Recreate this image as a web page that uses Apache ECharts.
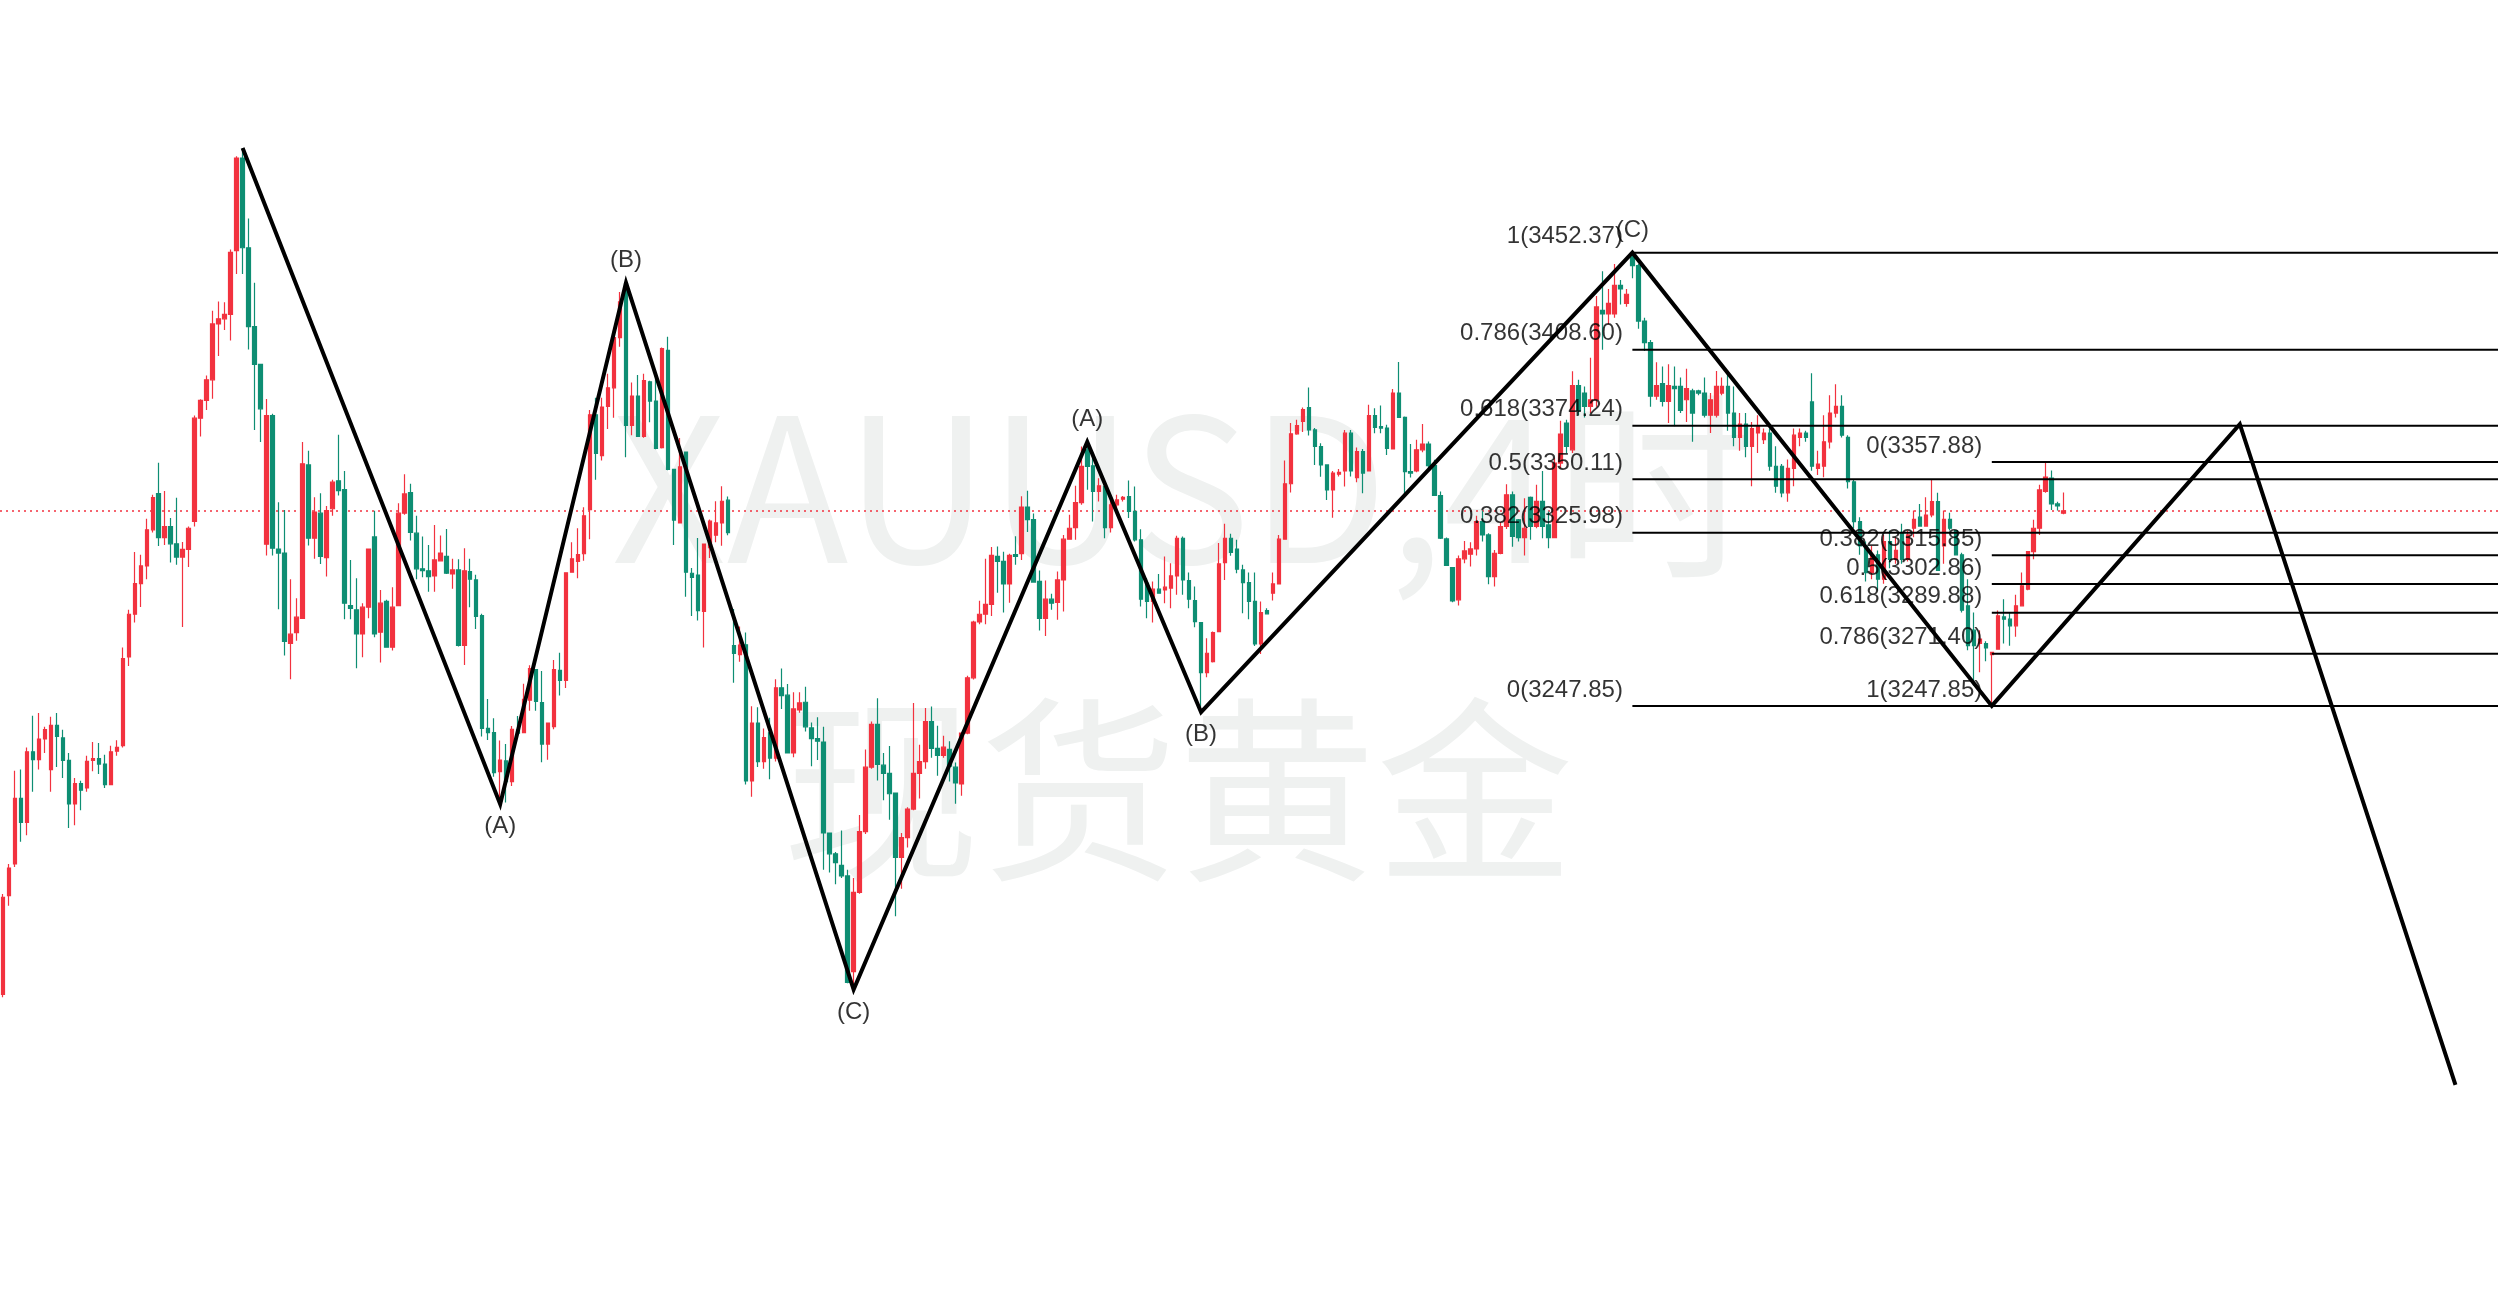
<!DOCTYPE html>
<html><head><meta charset="utf-8">
<script src="https://cdn.jsdelivr.net/npm/echarts@6/dist/echarts.min.js"></script>
<style>html,body{margin:0;padding:0;background:#fff;overflow:hidden}#c{width:2498px;height:1308px}</style>
</head><body><div id="c"></div>
<script>
// candles: [open, close, low, high]
const candles = [
[3117.6,3161.5,3116.4,3163.0],[3162.2,3174.7,3157.7,3176.5],[3176.5,3206.1,3175.2,3218.6],[3206.1,3195.3,3186.5,3219.1],
[3195.3,3227.1,3189.5,3229.1],[3227.1,3223.6,3209.1,3243.4],[3223.6,3232.9,3219.1,3244.6],[3232.9,3237.1,3226.6,3238.4],
[3219.1,3239.1,3209.1,3242.9],[3239.1,3234.1,3220.3,3244.6],[3233.4,3223.3,3215.3,3237.1],[3223.3,3203.6,3192.8,3226.6],
[3203.6,3212.8,3194.0,3215.3],[3212.8,3209.8,3200.8,3214.1],[3210.8,3222.8,3209.1,3225.3],[3223.3,3224.1,3218.3,3231.6],
[3224.1,3221.6,3217.1,3231.1],[3221.6,3212.3,3210.8,3225.8],[3212.3,3227.1,3212.3,3229.9],[3227.4,3229.1,3225.3,3232.4],
[3229.9,3269.2,3229.1,3274.2],[3269.9,3289.2,3265.9,3291.2],[3289.2,3303.0,3285.5,3317.3],[3303.0,3311.0,3292.5,3316.0],
[3311.0,3327.3,3305.0,3332.3],[3327.3,3341.8,3326.1,3343.1],[3343.6,3323.8,3320.0,3357.6],[3323.8,3328.8,3320.5,3344.8],
[3328.8,3321.0,3312.5,3332.6],[3321.0,3315.0,3311.5,3341.8],[3315.0,3318.5,3283.5,3321.8],[3318.5,3328.0,3310.5,3328.8],
[3331.1,3377.7,3328.8,3378.9],[3377.7,3385.7,3369.4,3386.2],[3385.7,3395.0,3381.4,3396.9],[3395.0,3420.2,3386.4,3426.2],
[3420.2,3422.5,3405.7,3430.3],[3422.5,3424.5,3417.5,3430.0],[3424.5,3452.5,3412.7,3453.8],[3453.3,3495.1,3442.8,3495.9],
[3495.1,3454.6,3442.8,3499.6],[3454.6,3419.0,3408.7,3467.8],[3419.0,3402.0,3372.4,3438.8],[3402.0,3381.9,3366.9,3402.0],
[3320.8,3378.8,3315.7,3386.3],[3378.8,3319.0,3315.7,3379.7],[3318.6,3316.8,3291.5,3339.8],[3316.8,3276.9,3270.6,3336.3],
[3276.1,3280.2,3259.9,3305.0],[3280.9,3287.9,3277.3,3296.4],[3287.3,3357.1,3287.3,3366.9],[3356.6,3323.5,3320.2,3363.0],
[3323.5,3335.3,3314.2,3342.0],[3334.8,3315.3,3311.9,3343.8],[3314.8,3336.0,3306.2,3338.1],[3336.8,3348.8,3333.6,3349.9],
[3349.4,3345.0,3342.8,3370.2],[3345.4,3294.2,3287.0,3353.9],[3293.1,3291.8,3287.0,3313.7],[3291.2,3280.3,3264.8,3305.5],
[3280.3,3292.4,3269.8,3294.2],[3292.4,3318.6,3287.4,3318.6],[3324.1,3280.3,3278.8,3335.9],[3281.1,3294.2,3267.4,3300.2],
[3295.0,3274.3,3274.3,3295.7],[3274.3,3292.4,3272.8,3301.4],[3293.1,3334.8,3293.1,3339.3],[3334.8,3343.5,3334.1,3352.4],
[3344.1,3326.1,3322.5,3348.1],[3325.8,3309.7,3305.0,3333.6],[3309.7,3308.9,3305.9,3324.3],[3308.8,3306.2,3299.4,3320.5],
[3306.5,3313.7,3299.4,3329.5],[3313.3,3316.8,3313.0,3324.7],[3315.3,3307.7,3307.4,3327.7],[3307.4,3309.2,3300.7,3314.2],
[3309.2,3275.1,3274.6,3314.0],[3275.1,3308.8,3266.3,3319.0],[3308.5,3305.0,3292.4,3314.2],[3304.7,3288.2,3282.6,3307.0],
[3288.6,3237.7,3234.0,3289.4],[3237.7,3235.8,3232.5,3251.0],[3235.8,3217.7,3215.9,3242.3],[3218.2,3223.4,3203.5,3232.2],
[3223.0,3213.7,3204.3,3230.7],[3213.7,3237.3,3211.7,3238.8],[3237.0,3235.5,3235.5,3243.3],[3235.8,3250.8,3235.8,3257.8],
[3250.4,3264.7,3245.7,3266.2],[3264.2,3249.9,3245.7,3264.2],[3249.3,3230.6,3222.4,3263.6],[3230.6,3240.1,3223.5,3240.4],
[3238.5,3264.2,3237.3,3268.6],[3263.9,3259.4,3252.5,3271.8],[3259.4,3307.9,3255.9,3307.9],[3308.2,3314.2,3308.2,3321.7],
[3313.0,3316.1,3305.4,3328.0],[3316.5,3333.6,3313.3,3337.5],[3336.4,3379.2,3323.0,3381.4],[3379.2,3361.8,3349.9,3386.9],
[3360.8,3382.7,3358.6,3386.9],[3383.0,3391.4,3372.8,3397.7],[3391.4,3414.0,3377.9,3417.5],[3414.0,3430.2,3409.9,3434.6],
[3438.4,3374.4,3360.0,3438.9],[3374.4,3387.7,3370.0,3393.8],[3387.7,3369.5,3369.5,3397.2],[3369.5,3394.6,3368.9,3397.7],
[3394.1,3385.4,3375.9,3394.6],[3385.4,3364.0,3363.7,3396.9],[3364.4,3409.1,3364.0,3409.6],[3408.3,3354.6,3354.2,3414.4],
[3354.6,3331.7,3320.4,3354.6],[3330.4,3355.7,3330.1,3368.7],[3362.4,3308.2,3297.1,3362.4],[3307.7,3305.8,3288.4,3310.1],
[3306.9,3290.8,3286.4,3323.6],[3290.5,3320.9,3274.2,3320.9],[3319.3,3331.2,3314.6,3332.0],[3324.9,3330.4,3321.7,3340.2],
[3330.4,3340.2,3320.1,3347.0],[3340.7,3326.0,3324.9,3342.3],[3275.0,3271.5,3258.3,3291.6],[3271.0,3275.3,3267.8,3283.7],
[3275.4,3214.0,3212.4,3281.0],[3214.0,3240.1,3206.9,3247.7],[3240.1,3222.7,3220.3,3247.2],[3222.7,3233.5,3219.5,3237.7],
[3235.7,3224.3,3214.8,3242.5],[3224.3,3256.0,3222.7,3259.9],[3256.0,3252.5,3246.5,3264.7],[3252.7,3226.6,3226.6,3257.7],
[3226.6,3246.5,3224.7,3254.0],[3246.0,3249.2,3244.8,3254.0],[3249.5,3238.4,3236.3,3256.5],[3237.9,3233.1,3220.6,3240.3],
[3233.1,3231.9,3223.4,3242.7],[3231.5,3190.5,3173.9,3238.4],[3190.5,3181.1,3172.7,3190.5],[3181.1,3177.1,3167.4,3181.9],
[3175.9,3171.1,3170.2,3191.6],[3171.1,3123.1,3122.7,3173.9],[3127.9,3163.7,3119.8,3170.2],[3163.7,3191.1,3163.1,3198.6],
[3191.1,3220.2,3190.0,3228.2],[3220.2,3239.5,3219.5,3240.8],[3239.5,3221.5,3214.2,3251.3],[3221.1,3217.4,3205.3,3226.6],
[3217.4,3208.2,3196.5,3229.8],[3208.5,3179.5,3152.9,3208.5],[3179.5,3188.4,3165.3,3190.5],[3188.4,3201.3,3184.0,3202.1],
[3201.3,3217.4,3200.8,3249.2],[3217.4,3222.7,3206.1,3230.3],[3222.7,3240.8,3219.5,3246.9],[3240.8,3228.7,3224.4,3247.6],
[3228.7,3225.5,3216.3,3238.9],[3225.5,3229.2,3224.4,3234.4],[3228.2,3220.6,3213.7,3231.9],[3220.2,3213.1,3203.7,3222.3],
[3212.6,3235.6,3207.3,3235.6],[3235.6,3260.5,3235.0,3261.5],[3260.5,3285.7,3259.8,3286.3],[3285.7,3289.2,3284.7,3295.3],
[3289.2,3293.7,3284.7,3314.2],[3293.7,3315.8,3288.4,3319.5],[3315.3,3313.1,3298.9,3319.8],[3313.1,3302.9,3290.0,3317.4],
[3302.9,3315.8,3294.4,3316.5],[3316.1,3315.3,3311.5,3324.4],[3316.6,3337.6,3313.7,3342.4],[3337.6,3331.9,3326.3,3344.9],
[3331.9,3303.7,3303.7,3334.7],[3304.0,3287.3,3281.9,3308.9],[3287.3,3296.0,3279.4,3304.4],[3296.0,3294.2,3291.2,3298.4],
[3294.5,3304.7,3286.7,3308.5],[3304.7,3323.1,3290.4,3325.0],[3323.1,3328.0,3322.8,3334.1],[3328.3,3339.6,3322.8,3347.2],
[3339.6,3355.9,3338.6,3364.9],[3363.4,3355.9,3345.4,3367.0],[3356.2,3344.6,3331.1,3361.2],[3344.6,3347.2,3340.1,3350.6],
[3346.9,3328.3,3323.5,3348.7],[3328.3,3338.6,3326.1,3342.6],[3338.6,3340.8,3336.6,3343.1],[3341.1,3341.9,3340.1,3342.6],
[3342.3,3335.6,3332.6,3349.6],[3335.6,3322.8,3322.0,3346.9],[3322.8,3296.0,3292.7,3327.6],[3303.2,3295.0,3287.4,3305.5],
[3295.0,3300.5,3285.5,3304.0],[3300.5,3298.7,3298.5,3307.4],[3300.2,3301.4,3294.2,3315.3],[3301.0,3306.5,3291.9,3312.2],
[3306.5,3323.5,3298.0,3324.6],[3323.5,3304.7,3298.0,3324.3],[3304.4,3296.0,3291.9,3308.0],[3295.4,3285.9,3283.3,3301.7],
[3285.4,3262.9,3245.0,3285.4],[3262.9,3271.6,3260.8,3278.4],[3267.8,3280.9,3267.4,3281.4],[3281.4,3311.9,3281.4,3321.3],
[3312.5,3323.5,3304.7,3330.0],[3323.5,3317.1,3315.6,3325.5],[3318.6,3309.5,3307.7,3322.8],[3309.2,3303.5,3289.7,3311.5],
[3303.5,3295.0,3287.0,3308.0],[3295.0,3275.8,3274.9,3308.0],[3275.8,3290.0,3271.3,3295.0],[3290.9,3289.4,3289.4,3291.9],
[3298.7,3302.9,3295.4,3308.0],[3302.9,3323.1,3302.9,3325.0],[3323.1,3348.1,3323.1,3358.6],[3348.1,3370.6,3344.1,3375.5],
[3370.6,3374.3,3370.2,3377.0],[3376.2,3381.5,3371.4,3382.5],[3382.5,3372.4,3369.9,3391.5],[3372.4,3364.9,3356.6,3373.2],
[3364.9,3356.6,3351.3,3366.4],[3356.6,3345.3,3340.8,3356.9],[3345.3,3352.9,3332.8,3353.9],[3352.4,3353.2,3351.4,3354.8],
[3353.9,3370.9,3346.8,3372.4],[3370.9,3353.9,3351.4,3372.4],[3350.9,3362.6,3348.8,3364.5],[3362.6,3352.9,3343.8,3363.8],
[3353.9,3378.9,3353.9,3383.7],[3378.9,3373.5,3370.9,3382.2],[3373.9,3373.2,3370.9,3383.4],[3373.2,3364.1,3361.1,3374.7],
[3363.8,3389.0,3363.8,3390.9],[3389.0,3378.0,3378.0,3403.0],[3378.0,3353.6,3343.1,3378.4],[3353.6,3352.9,3350.9,3366.0],
[3353.9,3363.4,3353.3,3367.9],[3363.4,3366.0,3362.3,3375.0],[3366.0,3356.3,3353.9,3367.2],[3356.3,3342.8,3342.8,3358.9],
[3342.8,3323.5,3323.2,3344.6],[3323.2,3311.2,3311.2,3323.8],[3310.3,3295.2,3294.6,3310.3],[3295.7,3314.2,3293.1,3315.7],
[3314.2,3317.8,3312.2,3322.3],[3316.3,3318.7,3310.7,3321.7],[3318.7,3331.0,3315.7,3333.7],[3331.0,3325.0,3322.0,3335.9],
[3325.0,3306.2,3302.7,3325.8],[3306.2,3316.7,3301.7,3318.2],[3316.7,3328.8,3316.3,3330.7],[3328.8,3343.1,3327.7,3347.9],
[3343.1,3324.3,3319.7,3344.6],[3331.8,3323.8,3322.0,3332.2],[3323.8,3328.0,3315.7,3341.6],[3341.9,3328.8,3322.8,3342.3],
[3328.8,3340.1,3328.0,3347.6],[3340.1,3328.8,3323.5,3353.9],[3329.5,3323.8,3319.0,3335.6],[3323.8,3357.4,3323.8,3359.6],
[3357.4,3370.5,3355.0,3376.5],[3375.5,3365.0,3362.0,3377.0],[3363.4,3392.4,3362.0,3398.9],[3392.4,3381.2,3379.0,3395.0],
[3389.0,3383.0,3378.0,3392.0],[3383.0,3386.0,3380.0,3405.0],[3386.0,3427.9,3382.8,3432.8],[3426.3,3424.7,3408.6,3444.0],
[3424.7,3429.5,3420.0,3436.0],[3424.7,3437.6,3423.0,3447.3],[3437.6,3436.0,3429.0,3440.0],[3429.5,3433.6,3428.0,3436.0],
[3450.5,3446.5,3440.8,3452.37],[3446.5,3421.5,3418.0,3447.3],[3421.5,3411.8,3408.0,3423.0],[3411.8,3387.6,3382.8,3413.0],
[3387.6,3392.4,3386.0,3402.9],[3393.3,3385.2,3383.0,3401.0],[3385.2,3392.4,3375.5,3402.0],[3392.0,3391.0,3374.0,3401.0],
[3392.0,3381.2,3380.0,3396.0],[3386.0,3391.0,3376.0,3400.0],[3390.0,3380.0,3367.0,3391.0],[3390.0,3389.0,3388.0,3390.5],
[3389.0,3379.0,3378.0,3396.0],[3379.0,3386.0,3371.0,3389.0],[3379.0,3392.0,3378.0,3399.0],[3389.0,3392.0,3388.0,3396.0],
[3392.0,3380.0,3372.0,3399.0],[3380.0,3369.0,3365.0,3392.0],[3369.0,3375.0,3363.0,3380.0],[3375.0,3365.0,3360.0,3380.0],
[3365.0,3373.0,3347.0,3376.0],[3371.0,3374.0,3362.0,3379.0],[3368.0,3371.0,3366.0,3373.0],[3371.0,3356.0,3354.0,3373.0],
[3356.0,3347.0,3344.0,3365.0],[3356.0,3344.0,3342.0,3357.0],[3344.0,3355.0,3340.0,3359.0],[3355.0,3370.0,3347.0,3373.0],
[3369.0,3371.0,3365.0,3373.0],[3371.0,3369.0,3367.0,3372.0],[3385.0,3356.0,3354.0,3398.0],[3355.0,3357.0,3352.0,3363.0],
[3356.0,3367.0,3351.0,3379.0],[3367.0,3380.0,3364.0,3388.0],[3380.0,3383.0,3378.0,3393.0],[3383.0,3370.0,3369.0,3388.0],
[3369.0,3349.0,3346.0,3370.0],[3349.0,3331.0,3328.0,3350.0],[3331.0,3320.0,3316.0,3333.0],[3320.0,3308.0,3304.0,3322.0],
[3308.0,3316.0,3305.0,3320.0],[3316.0,3305.0,3300.0,3318.0],[3305.0,3322.0,3303.0,3325.0],[3322.0,3314.0,3310.0,3327.0],
[3314.0,3318.0,3312.0,3324.0],[3326.0,3314.0,3312.0,3330.0],[3314.0,3325.0,3313.0,3327.0],[3328.0,3332.0,3324.0,3336.0],
[3333.0,3329.0,3329.0,3339.0],[3329.0,3334.0,3329.0,3342.0],[3334.0,3340.0,3333.0,3350.0],[3340.0,3309.0,3309.0,3344.0],
[3320.0,3332.0,3312.0,3336.0],[3332.0,3328.0,3327.0,3335.0],[3327.0,3316.0,3316.0,3327.0],[3316.0,3291.0,3290.0,3317.0],
[3293.0,3275.0,3273.0,3305.0],[3282.0,3275.0,3257.0,3290.0],[3276.0,3278.0,3263.0,3282.0],[3276.0,3274.0,3268.0,3277.0],
[3271.0,3272.0,3247.85,3272.0],[3273.4,3288.5,3273.4,3290.9],[3288.0,3287.0,3276.0,3296.0],[3287.0,3284.0,3275.0,3290.0],
[3284.0,3293.0,3279.0,3298.0],[3293.0,3302.0,3293.0,3308.0],[3300.5,3317.5,3300.0,3317.5],[3317.5,3328.0,3314.0,3331.8],
[3328.0,3345.3,3325.0,3347.6],[3344.6,3351.1,3344.0,3357.88],[3350.6,3339.0,3336.3,3354.1],[3339.0,3338.1,3336.0,3340.0],
[3334.8,3335.9,3334.3,3344.1]
];
const slotCount = 417;
// Elliott-wave zigzag pivots (slot index, price) and labels
const wavePivotIdx = [40, 83, 104, 142, 181, 200, 272, 332, 373.4, 409.4];
const wavePivotPrice = [3499.6, 3203.5, 3438.9, 3119.8, 3367.0, 3245.0, 3452.37, 3247.85, 3375.0, 3076.8];
const waveLabels = ['', '(A)', '(B)', '(C)', '(A)', '(B)', '(C)', '', '', ''];
const waveLabelSide = ['top', 'bottom', 'top', 'bottom', 'top', 'bottom', 'top', 'bottom', 'top', 'bottom'];
// Fibonacci retracements
const fibLeftRatios = ['1', '0.786', '0.618', '0.5', '0.382', '0'];
const fibLeftPrices = [3452.37, 3408.60, 3374.24, 3350.11, 3325.98, 3247.85];
const fibLeftStart = 272;
const fibRightRatios = ['0', '0.382', '0.5', '0.618', '0.786', '1'];
const fibRightPrices = [3357.88, 3315.85, 3302.86, 3289.88, 3271.40, 3247.85];
const fibRightStart = 332;
const watermarkTexts = ['XAUUSD,4时', '现货黄金'];
const priceMin = 2976.14, priceMax = 3566.39;

const RED = '#F2323F', GREEN = '#0E8E73';
const LABEL_FONT = 'Liberation Sans';

const categories = Array.from({length: slotCount}, (_, i) => String(i));
const lastClose = candles[candles.length - 1][1];

const series = [];
series.push({
  type: 'candlestick', xAxisIndex: 0, yAxisIndex: 0, z: 5,
  data: candles, barWidth: 4,
  itemStyle: {color: RED, color0: GREEN, borderColor: RED, borderColor0: GREEN, borderColorDoji: RED, borderWidth: 1.2},
  markLine: {
    silent: true, symbol: ['none', 'none'], animation: false,
    label: {show: false},
    lineStyle: {color: RED, type: [2, 4], width: 1.5},
    data: [{yAxis: lastClose}]
  }
});
series.push({
  type: 'line', xAxisIndex: 1, yAxisIndex: 0, z: 10, silent: true,
  data: wavePivotIdx.map((x, i) => [x, wavePivotPrice[i]]),
  symbol: 'none', lineStyle: {color: '#000', width: 4, join: 'miter', miterLimit: 20}
});
series.push({
  type: 'scatter', xAxisIndex: 1, yAxisIndex: 0, z: 12, silent: true,
  symbolSize: 1, itemStyle: {color: 'rgba(0,0,0,0)'},
  data: wavePivotIdx.map((x, i) => ({
    value: [x, wavePivotPrice[i]], name: waveLabels[i],
    label: {show: waveLabels[i] !== '', position: waveLabelSide[i], distance: 10}
  })),
  label: {formatter: '{b}', color: '#000', fontSize: 24, fontFamily: LABEL_FONT}
});
function addFib(ratios, prices, start) {
  ratios.forEach((r, i) => {
    series.push({
      type: 'line', xAxisIndex: 1, yAxisIndex: 0, z: 8, silent: true,
      data: [[start, prices[i]], [slotCount - 0.5, prices[i]]],
      symbol: 'none', lineStyle: {color: '#000', width: 2}
    });
  });
  series.push({
    type: 'scatter', xAxisIndex: 1, yAxisIndex: 0, z: 12, silent: true,
    symbolSize: 1, itemStyle: {color: 'rgba(0,0,0,0)'},
    data: ratios.map((r, i) => ({value: [start, prices[i]], name: r + '(' + prices[i].toFixed(2) + ')'})),
    label: {show: true, position: 'left', distance: 9, offset: [0, -16], formatter: '{b}',
            color: '#000', fontSize: 24, fontFamily: LABEL_FONT}
  });
}
addFib(fibLeftRatios, fibLeftPrices, fibLeftStart);
addFib(fibRightRatios, fibRightPrices, fibRightStart);

const chart = echarts.init(document.getElementById('c'), null, {renderer: 'canvas'});
chart.setOption({
  animation: false,
  backgroundColor: '#ffffff',
  grid: {left: -5, top: 0, width: slotCount * 6.009, height: 1308, containLabel: false},
  xAxis: [
    {type: 'category', data: categories, boundaryGap: true, show: false},
    {type: 'value', min: -0.5, max: slotCount - 0.5, show: false}
  ],
  yAxis: [{type: 'value', min: priceMin, max: priceMax, show: false, splitLine: {show: false}}],
  graphic: [
    {type: 'text', x: 1183, y: 487, z: 0, silent: true,
     style: {text: watermarkTexts[0], fill: '#EFF1F0', fontSize: 200, fontFamily: 'Noto Sans CJK SC', align: 'center', verticalAlign: 'middle'}},
    {type: 'text', x: 1178, y: 790, z: 0, silent: true,
     style: {text: watermarkTexts[1], fill: '#EFF1F0', fontSize: 198, fontFamily: 'Noto Sans CJK SC', align: 'center', verticalAlign: 'middle'}}
  ],
  series: series
});
</script>
</body></html>
